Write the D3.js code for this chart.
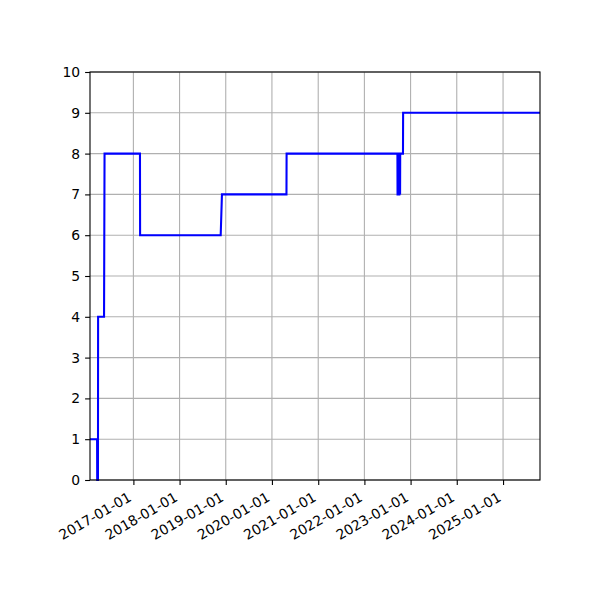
<!DOCTYPE html>
<html>
<head>
<meta charset="utf-8">
<script src="https://cdn.jsdelivr.net/npm/d3@7"></script>
<style>
  body { margin: 0; background: #fff; }
  text { font-family: "DejaVu Sans", sans-serif; }
</style>
</head>
<body>
<div id="chart"></div>
<script>
// values
var dates = [
    "2016-01-24", "2016-03-20", "2016-03-21", "2016-03-27", "2016-03-28",
    "2016-05-14", "2016-05-18", "2017-02-22", "2017-02-23",
    "2018-11-22", "2018-12-02", "2020-04-25", "2020-04-26",
    "2022-09-19", "2022-09-20", "2022-09-24", "2022-09-25", "2022-09-29",
    "2022-09-30", "2022-10-04", "2022-10-05", "2022-10-09", "2022-10-10",
    "2022-10-11", "2022-11-02", "2022-11-03", "2025-10-20"
];
var values = [
    1, 1, 0, 0, 4,
    4, 8, 8, 6,
    6, 7, 7, 8,
    8, 7, 7, 8, 8,
    7, 7, 8, 8, 7,
    8, 8, 9, 9
];

var yTicks = [0, 1, 2, 3, 4, 5, 6, 7, 8, 9, 10];
var xTickYears = [2017, 2018, 2019, 2020, 2021, 2022, 2023, 2024, 2025];

var width = 600, height = 600;
var plotLeft = 90, plotRight = 540, plotTop = 72, plotBottom = 480;
var fontSize = 13.9;

var parse = d3.timeParse("%Y-%m-%d");
var fmt = d3.timeFormat("%Y-%m-%d");
var points = dates.map(function(d, i) { return {date: parse(d), value: values[i]}; });

var x = d3.scaleTime()
    .domain(d3.extent(points, function(p) { return p.date; }))
    .range([plotLeft, plotRight]);
var y = d3.scaleLinear().domain([0, 10]).range([plotBottom, plotTop]);

var xTicks = xTickYears.map(function(yr) { return new Date(yr, 0, 1); });

var svg = d3.select("#chart").append("svg")
    .attr("width", width).attr("height", height);

// grid
var grid = svg.append("g").attr("stroke", "#b0b0b0").attr("stroke-width", 1.1);
grid.selectAll(".gx").data(xTicks).enter().append("line")
    .attr("x1", function(d) { return x(d); }).attr("x2", function(d) { return x(d); })
    .attr("y1", plotTop).attr("y2", plotBottom);
grid.selectAll(".gy").data(yTicks).enter().append("line")
    .attr("x1", plotLeft).attr("x2", plotRight)
    .attr("y1", function(d) { return y(d); }).attr("y2", function(d) { return y(d); });

// data line
var line = d3.line()
    .x(function(p) { return x(p.date); })
    .y(function(p) { return y(p.value); });

svg.append("path")
    .datum(points)
    .attr("d", line)
    .attr("fill", "none")
    .attr("stroke", "#0000ff")
    .attr("stroke-width", 2.08)
    .attr("stroke-linejoin", "miter")
    .attr("stroke-linecap", "butt");

// frame
svg.append("rect")
    .attr("x", plotLeft).attr("y", plotTop)
    .attr("width", plotRight - plotLeft).attr("height", plotBottom - plotTop)
    .attr("fill", "none").attr("stroke", "black").attr("stroke-width", 1.1);

// y axis
var yAxis = d3.axisLeft(y).tickValues(yTicks).tickSize(4.9).tickPadding(4.9).tickFormat(d3.format("d"));
var yg = svg.append("g").attr("transform", "translate(" + plotLeft + ",0)").call(yAxis);

// x axis
var xAxis = d3.axisBottom(x).tickValues(xTicks).tickSize(4.9).tickFormat(fmt);
var xg = svg.append("g").attr("transform", "translate(0," + plotBottom + ")").call(xAxis);
xg.selectAll(".tick text")
    .attr("y", 0).attr("dy", null)
    .attr("text-anchor", "end")
    .attr("transform", "translate(-1.5,20) rotate(-30)");

[yg, xg].forEach(function(g) {
    g.select(".domain").remove();
    g.selectAll(".tick line").attr("stroke", "black").attr("stroke-width", 1.1);
    g.selectAll(".tick text").attr("fill", "black")
        .style("font-size", fontSize + "px")
        .style("font-family", "DejaVu Sans, sans-serif");
});
</script>
</body>
</html>
